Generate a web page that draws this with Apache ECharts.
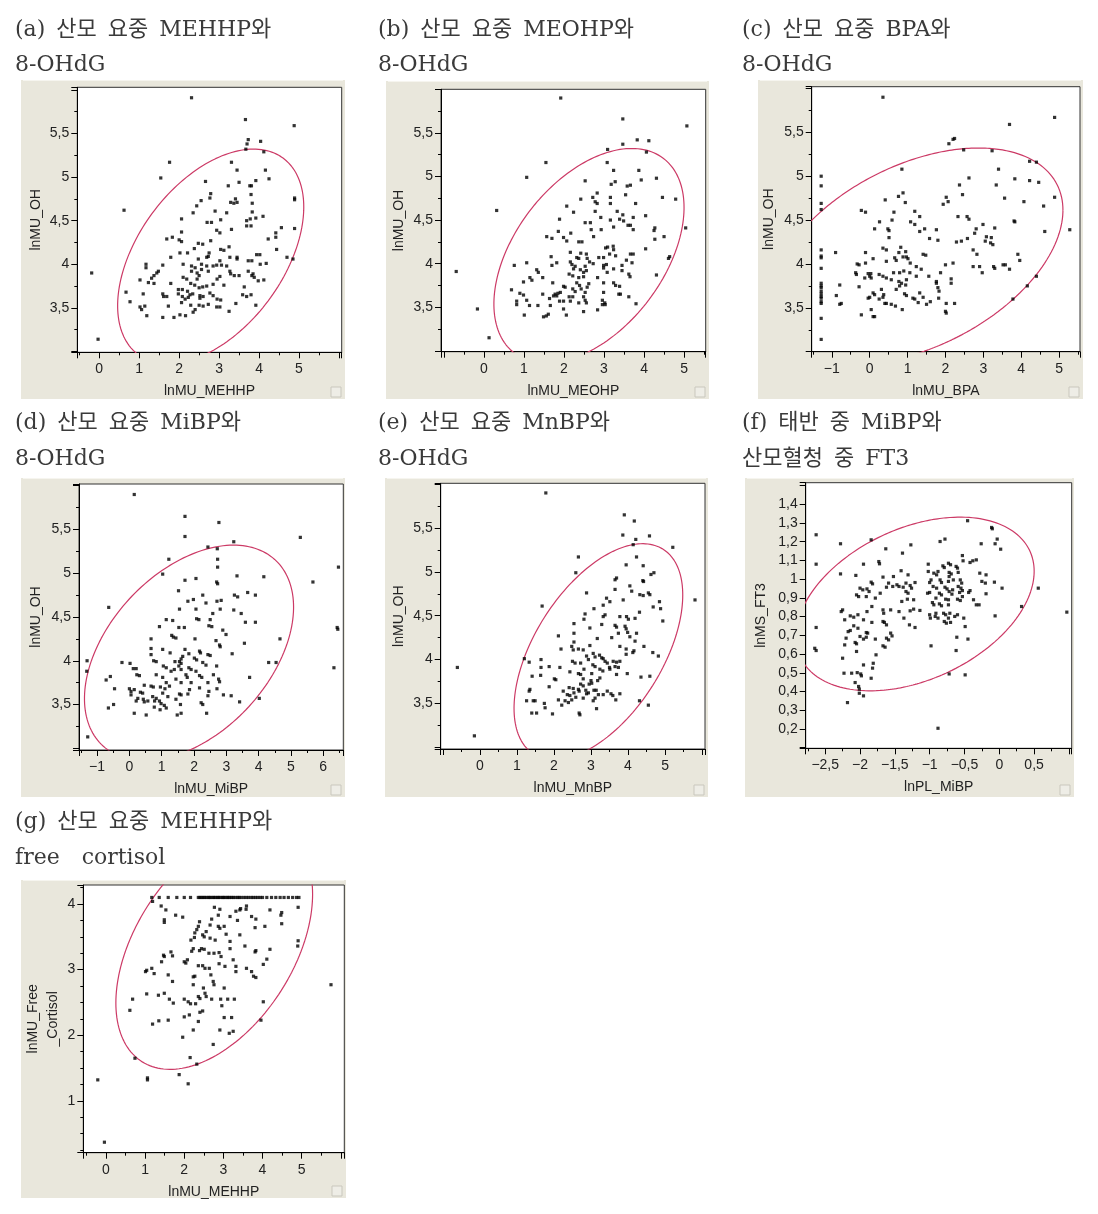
<!DOCTYPE html>
<html><head><meta charset="utf-8">
<script src="https://cdn.jsdelivr.net/npm/echarts@6/dist/echarts.min.js"></script>
<style>html,body{margin:0;padding:0;background:#fff}#c{width:1098px;height:1214px}</style>
</head><body><div id="c"></div>
<script>
// ---------- DATA ----------
const ptsA = [[2.31,5.91],[3.66,5.66],[4.88,5.59],[3.73,5.43],[3.70,5.38],[4.04,5.41],[3.67,5.32],[4.12,5.29],[1.76,5.17],[3.31,5.17],[1.54,4.99],[0.62,4.62],[-0.19,3.90],[-0.03,3.14],[3.45,5.08],[4.16,5.08],[4.25,4.98],[3.50,4.94],[2.66,4.95],[3.92,4.96],[3.77,4.90],[3.81,4.90],[3.23,4.90],[2.79,4.81],[2.77,4.76],[3.80,4.80],[3.41,4.75],[3.45,4.71],[3.37,4.70],[4.89,4.76],[4.89,4.74],[2.55,4.73],[2.44,4.67],[3.29,4.71],[3.83,4.70],[2.90,4.61],[3.19,4.59],[3.83,4.60],[2.35,4.59],[2.06,4.52],[3.04,4.51],[2.70,4.48],[2.81,4.48],[4.10,4.55],[3.92,4.53],[3.69,4.50],[3.78,4.52],[3.69,4.44],[3.80,4.44],[4.89,4.41],[4.56,4.42],[4.42,4.36],[4.42,4.31],[2.94,4.39],[3.02,4.36],[2.06,4.37],[3.31,4.40],[4.23,4.29],[1.69,4.29],[1.83,4.31],[2.00,4.28],[2.06,4.26],[2.48,4.24],[2.59,4.23],[2.79,4.27],[2.38,4.18],[3.04,4.17],[3.12,4.16],[3.25,4.20],[4.44,4.17],[2.02,4.13],[2.21,4.13],[2.75,4.13],[1.79,4.08],[2.48,4.06],[2.69,4.08],[2.73,4.09],[3.02,4.04],[3.27,4.08],[3.45,4.08],[3.73,4.04],[3.82,4.04],[3.94,4.11],[4.02,4.11],[4.70,4.08],[4.85,4.06],[4.03,4.00],[4.18,4.01],[1.17,4.00],[1.17,3.96],[1.59,3.99],[2.10,4.00],[2.31,3.98],[2.40,3.96],[2.56,4.00],[2.69,3.98],[2.85,3.98],[2.94,3.99],[3.06,3.99],[3.19,3.98],[2.56,3.94],[2.73,3.92],[2.31,3.92],[2.45,3.90],[3.27,3.92],[3.29,3.89],[3.50,3.87],[3.73,3.92],[3.85,3.89],[1.48,3.92],[1.44,3.90],[1.37,3.87],[1.31,3.84],[1.02,3.82],[1.23,3.79],[1.37,3.78],[1.79,3.78],[2.10,3.85],[2.19,3.83],[2.45,3.83],[2.50,3.87],[2.95,3.83],[3.02,3.86],[3.82,3.87],[3.88,3.85],[4.12,3.82],[2.29,3.78],[2.39,3.76],[2.59,3.74],[2.69,3.75],[2.85,3.77],[3.12,3.76],[3.63,3.74],[1.98,3.71],[2.08,3.71],[2.21,3.69],[2.50,3.73],[2.77,3.67],[0.67,3.68],[1.10,3.66],[1.59,3.66],[1.61,3.63],[1.98,3.66],[2.08,3.63],[2.27,3.65],[2.34,3.66],[2.52,3.64],[2.60,3.63],[2.85,3.64],[2.15,3.60],[2.23,3.62],[2.52,3.61],[2.95,3.60],[3.04,3.59],[3.59,3.65],[3.69,3.63],[3.80,3.65],[0.77,3.57],[1.69,3.63],[2.06,3.56],[2.29,3.53],[2.50,3.53],[2.60,3.52],[2.73,3.54],[2.94,3.51],[3.02,3.51],[3.42,3.55],[3.92,3.53],[1.02,3.51],[1.06,3.48],[1.14,3.52],[1.73,3.52],[1.19,3.41],[1.59,3.39],[1.87,3.39],[2.02,3.42],[2.16,3.41],[2.35,3.45],[2.40,3.48],[3.25,3.46],[3.98,3.81],[3.38,3.87],[3.45,4.06]];

const ptsB = [[1.92,5.90],[3.47,5.66],[5.07,5.58],[3.83,5.42],[4.12,5.41],[3.47,5.37],[3.09,5.31],[4.06,5.28],[1.55,5.16],[3.08,5.16],[1.07,4.99],[3.24,5.07],[3.87,5.07],[4.31,4.98],[2.53,4.95],[3.28,4.94],[3.93,4.96],[3.58,4.89],[3.66,4.90],[3.18,4.91],[2.83,4.81],[3.54,4.79],[4.46,4.76],[4.79,4.74],[2.42,4.74],[2.72,4.76],[3.16,4.76],[2.07,4.66],[2.78,4.71],[2.83,4.69],[3.16,4.69],[3.79,4.69],[0.32,4.61],[2.24,4.59],[2.78,4.60],[3.33,4.60],[3.47,4.56],[4.04,4.55],[1.89,4.51],[2.92,4.53],[3.39,4.51],[3.49,4.49],[3.73,4.53],[2.53,4.47],[2.66,4.47],[3.16,4.50],[3.60,4.44],[3.66,4.44],[5.04,4.41],[4.27,4.41],[2.68,4.39],[2.93,4.39],[3.24,4.42],[3.73,4.39],[1.86,4.37],[2.17,4.35],[4.25,4.38],[1.57,4.31],[1.70,4.29],[4.50,4.31],[2.74,4.31],[1.99,4.30],[2.07,4.26],[2.37,4.25],[2.45,4.25],[4.27,4.28],[3.04,4.18],[3.09,4.19],[3.23,4.20],[3.24,4.16],[4.04,4.17],[2.16,4.13],[2.42,4.12],[2.56,4.11],[2.58,4.06],[3.14,4.11],[3.66,4.11],[3.73,4.11],[1.68,4.08],[2.32,4.07],[2.37,4.06],[2.87,4.07],[2.99,4.07],[3.29,4.09],[4.61,4.06],[4.64,4.08],[3.56,4.04],[3.70,4.01],[1.82,4.01],[1.70,3.98],[2.16,4.02],[2.64,4.02],[2.73,4.00],[2.20,3.99],[2.28,3.97],[2.53,3.97],[2.99,3.98],[3.06,3.99],[3.45,3.98],[1.07,4.01],[0.76,3.98],[1.32,3.93],[1.36,3.90],[2.24,3.94],[2.41,3.93],[2.49,3.90],[2.56,3.92],[2.99,3.95],[3.08,3.90],[3.24,3.94],[3.45,3.92],[-0.69,3.91],[2.13,3.88],[2.22,3.86],[2.37,3.84],[2.49,3.85],[2.84,3.84],[3.62,3.88],[3.65,3.85],[4.31,3.87],[1.15,3.84],[1.20,3.81],[1.47,3.84],[1.72,3.78],[0.99,3.79],[2.32,3.78],[2.39,3.75],[2.62,3.77],[2.58,3.73],[2.99,3.78],[3.24,3.78],[3.29,3.75],[1.99,3.74],[2.03,3.73],[2.22,3.71],[2.43,3.71],[3.39,3.74],[0.69,3.70],[0.90,3.66],[0.99,3.64],[1.78,3.65],[1.85,3.66],[1.91,3.67],[2.28,3.68],[2.53,3.67],[2.99,3.67],[3.37,3.65],[3.41,3.65],[1.47,3.65],[1.74,3.63],[1.82,3.63],[2.13,3.62],[2.22,3.62],[2.49,3.62],[3.62,3.62],[0.82,3.57],[0.82,3.53],[1.07,3.58],[1.64,3.60],[1.89,3.57],[1.99,3.57],[2.16,3.57],[2.37,3.55],[2.53,3.58],[2.56,3.55],[2.96,3.58],[3.02,3.55],[2.96,3.53],[3.03,3.53],[3.80,3.54],[1.14,3.52],[1.35,3.52],[1.66,3.52],[1.99,3.48],[2.84,3.47],[2.49,3.45],[1.01,3.41],[1.49,3.39],[1.56,3.40],[1.61,3.42],[2.06,3.41],[-0.16,3.48],[0.13,3.15]];

const ptsC = [[-1.28,5.00],[-1.28,4.89],[-1.28,4.69],[-1.28,4.62],[-1.28,4.16],[-1.28,4.09],[-1.28,4.07],[-1.28,3.95],[-1.28,3.78],[-1.28,3.75],[-1.28,3.73],[-1.28,3.69],[-1.28,3.66],[-1.28,3.63],[-1.28,3.61],[-1.28,3.57],[-1.28,3.55],[-1.28,3.38],[-1.28,3.14],[0.35,5.90],[3.69,5.59],[4.88,5.67],[2.20,5.42],[2.24,5.43],[2.09,5.37],[2.48,5.30],[3.23,5.29],[0.85,5.08],[3.40,5.08],[4.22,5.17],[4.40,5.16],[2.62,4.98],[3.83,4.97],[4.22,4.95],[4.46,4.93],[2.37,4.90],[3.34,4.90],[2.45,4.79],[0.88,4.81],[0.76,4.77],[2.02,4.76],[2.07,4.71],[1.94,4.68],[3.56,4.75],[4.88,4.76],[0.41,4.73],[0.94,4.70],[4.07,4.71],[4.59,4.66],[1.19,4.60],[-0.22,4.61],[-0.11,4.59],[0.64,4.59],[1.32,4.54],[2.33,4.54],[2.57,4.54],[2.62,4.51],[3.81,4.49],[3.83,4.48],[0.59,4.50],[1.08,4.48],[1.19,4.45],[0.26,4.48],[0.48,4.40],[0.51,4.38],[0.13,4.40],[1.45,4.40],[1.76,4.39],[2.81,4.40],[3.30,4.41],[4.62,4.37],[5.28,4.39],[2.99,4.45],[1.32,4.37],[2.77,4.35],[0.51,4.30],[1.58,4.29],[1.80,4.27],[2.29,4.25],[2.42,4.26],[3.08,4.31],[3.21,4.30],[3.19,4.24],[3.25,4.22],[2.58,4.29],[3.05,4.26],[2.73,4.16],[0.35,4.18],[0.44,4.16],[0.82,4.19],[0.77,4.13],[0.95,4.14],[-0.90,4.13],[1.41,4.11],[1.48,4.10],[-0.11,4.13],[0.66,4.07],[0.70,4.04],[0.88,4.08],[0.97,4.08],[1.01,4.06],[0.09,4.06],[2.83,4.11],[3.91,4.11],[3.96,4.04],[-0.33,4.00],[-0.28,3.99],[-0.11,4.01],[0.44,4.03],[1.07,4.01],[1.23,3.97],[2.00,3.99],[2.20,4.01],[2.73,3.97],[2.90,3.97],[3.27,3.97],[3.30,3.95],[3.52,3.99],[3.58,3.99],[3.69,3.94],[4.40,3.86],[-0.37,3.90],[-0.35,3.88],[-0.04,3.89],[0.03,3.89],[0.25,3.88],[0.63,3.90],[0.79,3.90],[0.90,3.92],[1.06,3.90],[1.36,3.94],[1.87,3.90],[2.97,3.90],[-0.13,3.84],[0.04,3.84],[0.00,3.86],[0.35,3.86],[0.44,3.84],[0.57,3.82],[0.77,3.80],[0.84,3.78],[0.97,3.82],[0.95,3.76],[1.23,3.86],[1.56,3.86],[1.76,3.80],[1.76,3.78],[2.15,3.83],[2.15,3.78],[-0.79,3.76],[-0.28,3.74],[0.79,3.75],[1.80,3.73],[1.83,3.69],[0.70,3.71],[0.31,3.71],[0.09,3.67],[0.13,3.65],[0.37,3.65],[0.92,3.66],[0.97,3.64],[1.32,3.67],[-0.88,3.64],[0.35,3.62],[-0.04,3.61],[0.00,3.62],[1.14,3.61],[1.19,3.60],[1.41,3.62],[1.82,3.61],[-0.79,3.54],[-0.75,3.55],[0.25,3.60],[0.40,3.55],[0.44,3.55],[0.57,3.54],[0.68,3.52],[1.28,3.56],[1.50,3.54],[1.60,3.57],[2.02,3.55],[2.24,3.55],[0.86,3.48],[0.04,3.48],[-0.22,3.42],[0.09,3.40],[0.13,3.40],[2.00,3.46],[2.02,3.44],[3.78,3.60],[4.16,3.75]];

const ptsD = [[0.15,5.90],[1.72,5.65],[2.77,5.58],[1.72,5.42],[5.29,5.41],[3.23,5.36],[2.43,5.30],[2.72,5.28],[1.22,5.16],[2.73,5.16],[2.73,5.07],[6.47,5.07],[1.03,4.99],[3.33,4.97],[2.70,4.90],[2.73,4.88],[1.72,4.92],[2.06,4.94],[5.68,4.90],[4.16,4.96],[1.52,4.80],[2.27,4.75],[3.25,4.75],[3.35,4.73],[3.66,4.78],[3.90,4.75],[-0.64,4.61],[1.81,4.68],[1.98,4.70],[2.71,4.68],[2.84,4.69],[2.37,4.66],[1.55,4.59],[2.06,4.59],[2.81,4.59],[3.23,4.58],[3.46,4.54],[1.34,4.46],[1.14,4.47],[0.93,4.39],[2.08,4.48],[2.15,4.47],[2.50,4.47],[2.58,4.54],[3.59,4.44],[3.90,4.44],[1.53,4.38],[1.70,4.38],[2.46,4.40],[2.55,4.39],[2.89,4.35],[2.99,4.30],[6.45,4.36],[6.43,4.38],[1.31,4.29],[1.36,4.27],[0.67,4.25],[2.03,4.25],[2.68,4.23],[1.44,4.26],[4.66,4.25],[3.56,4.20],[0.67,4.14],[1.03,4.13],[1.72,4.13],[2.79,4.18],[2.81,4.16],[1.26,4.09],[1.84,4.08],[2.17,4.11],[2.20,4.09],[2.43,4.07],[2.50,4.06],[3.18,4.08],[1.65,4.05],[1.60,4.02],[2.01,4.03],[2.08,4.01],[0.67,4.07],[-1.31,4.00],[-0.23,3.98],[0.02,3.97],[0.75,4.00],[0.83,3.99],[1.41,3.99],[1.55,3.99],[1.60,3.97],[2.27,3.98],[2.37,3.95],[4.31,3.98],[4.54,3.98],[2.70,3.94],[0.12,3.91],[0.21,3.91],[1.05,3.94],[1.14,3.92],[1.29,3.88],[1.39,3.90],[1.53,3.94],[1.60,3.90],[1.84,3.92],[1.91,3.90],[6.33,3.92],[2.06,3.88],[-1.32,3.88],[0.23,3.84],[0.31,3.83],[0.83,3.84],[1.03,3.81],[1.44,3.79],[1.75,3.84],[1.79,3.81],[2.17,3.83],[2.24,3.81],[2.60,3.84],[2.76,3.79],[2.79,3.76],[3.72,3.81],[-0.72,3.78],[-0.59,3.82],[1.14,3.75],[1.60,3.75],[1.91,3.75],[2.43,3.75],[0.46,3.72],[0.67,3.71],[0.74,3.70],[0.96,3.70],[1.10,3.68],[1.24,3.71],[-0.46,3.68],[0.00,3.68],[0.05,3.65],[0.15,3.67],[0.34,3.64],[0.41,3.63],[1.86,3.67],[2.17,3.69],[2.46,3.65],[2.71,3.68],[1.03,3.63],[0.05,3.61],[1.55,3.62],[1.60,3.61],[2.43,3.60],[2.91,3.61],[3.15,3.60],[0.72,3.59],[0.83,3.57],[1.19,3.59],[1.81,3.62],[1.44,3.56],[0.26,3.57],[0.21,3.54],[0.43,3.56],[0.46,3.53],[0.57,3.54],[0.78,3.54],[0.93,3.54],[0.98,3.51],[1.08,3.49],[2.22,3.52],[2.27,3.50],[3.41,3.53],[4.02,3.57],[-0.49,3.50],[-0.65,3.46],[0.77,3.47],[0.95,3.44],[1.14,3.46],[1.58,3.50],[0.15,3.40],[0.52,3.38],[1.48,3.38],[1.60,3.40],[2.39,3.40],[-1.29,3.13]];

const ptsE = [[1.78,5.90],[3.90,5.65],[4.17,5.58],[3.86,5.42],[4.58,5.41],[4.21,5.37],[4.14,5.31],[5.21,5.28],[2.66,5.17],[4.23,5.17],[3.95,5.08],[4.41,5.07],[2.59,4.99],[4.62,4.97],[4.70,4.99],[3.65,4.91],[3.69,4.93],[4.40,4.90],[4.42,4.89],[4.05,4.84],[2.88,4.76],[3.65,4.80],[3.87,4.68],[4.10,4.78],[4.32,4.74],[4.41,4.73],[4.55,4.76],[4.59,4.74],[3.42,4.70],[3.51,4.66],[5.81,4.68],[4.85,4.66],[1.68,4.61],[4.68,4.60],[4.88,4.58],[3.08,4.58],[3.33,4.62],[2.84,4.52],[2.81,4.46],[3.38,4.51],[3.33,4.49],[3.78,4.49],[3.96,4.49],[4.01,4.46],[4.19,4.47],[4.31,4.54],[4.94,4.44],[2.97,4.36],[3.29,4.40],[3.65,4.39],[3.69,4.37],[3.92,4.38],[3.95,4.35],[2.54,4.41],[2.12,4.27],[2.54,4.30],[3.17,4.24],[3.74,4.30],[3.99,4.31],[4.05,4.26],[4.23,4.30],[4.19,4.21],[2.54,4.20],[3.56,4.25],[2.97,4.16],[2.19,4.12],[2.48,4.15],[2.52,4.11],[2.66,4.12],[2.79,4.11],[3.78,4.15],[4.43,4.15],[3.95,4.12],[4.13,4.08],[4.16,4.10],[3.95,4.06],[4.67,4.08],[4.82,4.04],[3.06,4.07],[3.11,4.03],[3.23,4.05],[3.29,4.02],[3.33,4.01],[2.88,4.04],[2.93,4.00],[1.20,4.01],[1.33,3.97],[1.65,4.00],[3.38,3.98],[3.44,3.96],[3.60,3.98],[3.69,3.97],[3.78,3.98],[2.50,3.98],[2.57,3.96],[2.72,3.96],[3.05,3.94],[3.11,3.92],[1.87,3.92],[2.16,3.91],[2.81,3.89],[3.24,3.89],[3.32,3.87],[3.50,3.91],[3.51,3.89],[3.65,3.92],[3.74,3.91],[1.65,3.91],[2.43,3.86],[2.66,3.84],[2.72,3.83],[3.02,3.84],[3.69,3.83],[3.98,3.84],[4.35,3.80],[4.59,3.81],[1.41,3.81],[1.64,3.82],[2.01,3.78],[2.05,3.77],[2.79,3.78],[3.00,3.76],[3.02,3.73],[3.24,3.79],[3.18,3.76],[2.72,3.72],[2.79,3.70],[2.95,3.72],[1.87,3.69],[2.41,3.68],[2.52,3.67],[2.66,3.66],[2.68,3.64],[2.86,3.65],[3.08,3.65],[3.14,3.65],[1.35,3.66],[1.33,3.64],[2.25,3.64],[2.54,3.62],[2.36,3.60],[2.43,3.59],[2.88,3.61],[2.93,3.62],[3.20,3.60],[3.33,3.60],[3.44,3.64],[3.54,3.61],[3.59,3.59],[3.78,3.61],[2.59,3.57],[2.79,3.56],[3.11,3.56],[2.12,3.54],[2.30,3.53],[2.39,3.51],[2.48,3.54],[3.67,3.54],[3.06,3.53],[1.26,3.53],[1.44,3.53],[1.49,3.53],[1.74,3.50],[2.21,3.48],[4.31,3.53],[4.55,3.48],[1.76,3.45],[3.15,3.44],[1.40,3.39],[1.53,3.39],[1.96,3.38],[2.68,3.39],[2.70,3.37],[-0.61,3.91],[-0.15,3.13]];

const ptsF = [[-0.455,1.312],[-0.11,1.276],[-0.10,1.269],[-2.63,1.237],[-0.78,1.214],[-1.84,1.210],[-0.85,1.201],[-0.03,1.214],[-2.28,1.189],[-0.26,1.189],[-0.06,1.189],[-1.27,1.183],[0.02,1.160],[-1.63,1.162],[-1.39,1.139],[-0.53,1.126],[-1.73,1.094],[-1.72,1.082],[-0.33,1.103],[-0.42,1.089],[-2.63,1.080],[-1.95,1.080],[-1.02,1.080],[-0.81,1.071],[-0.79,1.062],[-0.73,1.085],[-0.70,1.077],[-0.62,1.068],[-0.60,1.059],[-0.52,1.098],[-0.38,1.098],[-0.88,1.041],[-1.41,1.045],[-1.02,1.041],[-0.94,1.032],[-0.90,1.023],[-0.72,1.036],[-0.69,1.028],[-0.59,1.036],[-0.28,1.032],[-0.19,1.023],[-2.28,1.028],[-2.06,1.020],[-1.67,1.011],[-1.52,1.014],[-1.31,1.023],[-0.98,0.996],[-1.00,0.982],[-0.85,0.996],[-0.83,0.982],[-0.72,1.014],[-0.73,0.988],[-0.66,0.996],[-0.56,0.996],[-0.54,0.979],[-0.25,0.988],[-0.20,0.979],[-0.07,0.984],[-1.84,0.984],[-1.82,0.975],[-1.59,0.979],[-1.47,0.970],[-1.44,0.961],[-1.34,0.979],[-1.28,0.966],[-1.26,0.952],[-1.21,0.982],[-2.00,0.952],[-1.96,0.943],[-1.90,0.948],[-1.87,0.934],[-1.62,0.957],[-1.53,0.961],[-1.38,0.957],[-0.95,0.961],[-0.90,0.952],[-0.78,0.957],[-0.75,0.948],[-0.67,0.943],[-0.59,0.961],[-0.55,0.952],[0.04,0.952],[0.56,0.952],[-1.34,0.934],[-1.31,0.925],[-1.03,0.925],[-1.00,0.929],[-0.86,0.925],[-0.83,0.916],[-0.72,0.934],[-0.68,0.920],[-0.57,0.929],[-0.53,0.939],[-0.44,0.929],[-0.42,0.939],[-0.19,0.922],[-2.05,0.916],[-2.02,0.907],[-1.91,0.907],[-1.78,0.899],[-1.71,0.925],[-1.32,0.893],[-1.23,0.890],[-0.91,0.899],[-0.77,0.893],[-0.73,0.890],[-0.60,0.893],[-0.56,0.886],[-0.53,0.907],[-0.37,0.890],[-1.40,0.881],[-0.96,0.875],[-0.94,0.863],[-0.86,0.868],[-0.83,0.858],[-0.73,0.863],[-0.33,0.863],[-0.29,0.863],[0.32,0.854],[0.97,0.824],[-2.25,0.836],[-2.27,0.827],[-2.14,0.804],[-2.03,0.810],[-1.90,0.827],[-1.83,0.854],[-1.67,0.836],[-1.66,0.818],[-1.56,0.836],[-1.44,0.827],[-1.28,0.831],[-1.23,0.840],[-1.14,0.833],[-1.00,0.810],[-0.99,0.792],[-0.91,0.818],[-0.88,0.792],[-0.80,0.818],[-0.77,0.810],[-0.71,0.818],[-0.73,0.792],[-0.64,0.801],[-0.60,0.810],[-0.06,0.804],[-2.22,0.783],[-2.09,0.797],[-1.95,0.783],[-1.83,0.769],[-1.67,0.774],[-1.65,0.769],[-1.37,0.792],[-0.92,0.801],[-0.79,0.774],[-0.76,0.765],[-0.70,0.769],[-0.51,0.792],[-2.09,0.751],[-2.03,0.738],[-2.63,0.742],[-1.62,0.756],[-1.29,0.756],[-1.21,0.742],[-0.49,0.747],[-2.17,0.720],[-2.14,0.726],[-1.91,0.715],[-1.89,0.712],[-1.56,0.712],[-1.54,0.697],[-2.20,0.685],[-2.00,0.694],[-1.95,0.680],[-1.91,0.690],[-1.78,0.680],[-1.62,0.685],[-1.59,0.676],[-0.61,0.690],[-0.45,0.680],[-2.22,0.649],[-2.07,0.662],[-2.05,0.655],[-1.67,0.644],[-1.64,0.637],[-0.98,0.644],[-2.65,0.631],[-2.63,0.619],[-2.05,0.614],[-0.62,0.619],[-2.25,0.578],[-1.77,0.596],[-2.23,0.498],[-2.12,0.498],[-2.04,0.501],[-1.99,0.494],[-1.98,0.484],[-1.95,0.542],[-1.81,0.551],[-1.82,0.525],[-1.84,0.471],[-0.72,0.494],[-0.49,0.489],[-2.07,0.448],[-2.02,0.427],[-2.01,0.413],[-2.01,0.391],[-1.95,0.377],[-2.18,0.341],[-0.88,0.204]];

const ptsG = [[1.17,4.10],[1.36,4.10],[1.59,4.10],[1.81,4.10],[2.00,4.10],[2.16,4.10],[2.36,4.10],[2.40,4.10],[2.44,4.10],[2.48,4.10],[2.52,4.10],[2.56,4.10],[2.61,4.10],[2.64,4.10],[2.68,4.10],[2.73,4.10],[2.76,4.10],[2.80,4.10],[2.85,4.10],[2.88,4.10],[2.92,4.10],[2.97,4.10],[3.00,4.10],[3.04,4.10],[3.09,4.10],[3.12,4.10],[3.16,4.10],[3.21,4.10],[3.25,4.10],[3.30,4.10],[3.36,4.10],[3.40,4.10],[3.45,4.10],[3.52,4.10],[3.58,4.10],[3.64,4.10],[3.71,4.10],[3.76,4.10],[3.82,4.10],[3.88,4.10],[3.94,4.10],[4.00,4.10],[4.11,4.10],[4.23,4.10],[4.34,4.10],[4.45,4.10],[4.55,4.10],[4.66,4.10],[4.77,4.10],[4.87,4.10],[4.93,4.10],[1.17,3.02],[1.04,2.99],[1.01,2.97],[1.23,2.94],[1.04,2.63],[0.68,2.55],[0.61,2.38],[0.74,1.65],[1.06,1.35],[1.06,1.32],[-0.21,1.32],[-0.04,0.37],[5.75,2.77],[1.87,1.40],[2.10,1.26],[2.15,1.66],[2.32,1.56],[1.19,2.17],[1.35,2.22],[1.59,2.23],[1.96,1.97],[2.00,2.28],[2.13,2.31],[2.23,2.08],[2.36,2.21],[2.40,2.35],[2.47,2.37],[2.74,1.86],[2.91,2.08],[3.15,2.03],[3.25,2.06],[3.02,2.27],[3.21,2.27],[3.96,2.23],[1.34,2.61],[1.49,2.64],[1.62,2.55],[1.72,2.49],[2.00,2.55],[2.10,2.51],[2.16,2.48],[2.29,2.48],[1.59,2.92],[1.70,2.82],[1.47,3.22],[1.49,3.20],[1.66,3.27],[1.70,3.21],[1.42,3.12],[2.00,3.12],[2.04,3.10],[2.08,3.15],[2.19,3.28],[2.39,3.29],[2.44,3.32],[2.51,3.31],[2.63,3.25],[2.76,3.25],[2.89,3.26],[2.94,3.20],[3.17,3.32],[3.55,3.36],[3.81,3.27],[3.83,3.29],[4.19,3.31],[4.11,3.16],[4.02,3.08],[2.23,2.89],[2.27,2.90],[2.36,3.06],[2.47,3.06],[2.53,3.02],[2.64,3.02],[2.68,2.92],[2.89,3.09],[3.04,3.05],[3.32,3.05],[3.32,2.97],[3.59,3.02],[3.72,2.97],[3.77,2.90],[3.83,2.88],[2.74,2.82],[2.76,2.77],[2.49,2.72],[2.53,2.64],[2.56,2.59],[2.70,2.55],[3.02,2.72],[2.93,2.55],[2.96,2.45],[3.11,2.55],[3.28,2.55],[4.02,2.51],[4.90,3.36],[4.91,3.44],[4.91,3.95],[4.47,3.83],[4.49,3.87],[4.49,3.70],[4.19,3.91],[4.06,3.66],[3.83,3.77],[3.81,3.64],[3.72,3.81],[3.42,3.91],[3.44,3.93],[3.36,3.75],[3.42,3.53],[3.32,3.89],[3.17,3.81],[3.02,3.66],[3.07,3.54],[2.91,3.63],[2.87,3.66],[2.77,3.95],[2.91,3.92],[2.70,3.77],[2.66,3.68],[2.56,3.58],[2.47,3.53],[2.51,3.50],[2.39,3.73],[2.36,3.66],[2.32,3.61],[2.27,3.56],[2.26,3.49],[2.17,3.45],[2.23,3.32],[1.78,3.83],[1.96,3.80],[1.53,3.91],[1.49,3.76],[1.49,3.72],[1.41,3.97],[1.19,4.04],[3.58,3.92],[3.59,3.97],[2.66,3.48],[2.79,3.45],[3.17,3.43],[2.87,3.83],[3.25,3.15],[2.36,2.59],[2.40,2.56],[2.23,2.77]];

// density-ellipse summary per panel: [meanX, meanY, sdX, sdY, corr]
const ellA = [2.79, 4.09, 0.952, 0.503, 0.46];
const ellB = [2.625, 4.09, 0.970, 0.503, 0.45];
const ellC = [1.23, 4.09, 1.581, 0.503, 0.425];
const ellD = [1.845, 4.09, 1.322, 0.503, 0.425];
const ellE = [3.20, 4.09, 0.931, 0.503, 0.525];
const ellF = [-1.21, 0.8675, 0.699, 0.1894, 0.377];
const ellG = [2.766, 3.321, 1.027, 0.752, 0.45];

// tick labels
const xLabelsInt05 = [0,1,2,3,4,5];
const xLabelsC = [-1,0,1,2,3,4,5];
const xLabelsD = [-1,0,1,2,3,4,5,6];
const xLabelsF = [-2.5,-2,-1.5,-1,-0.5,0,0.5];
const yLabelsOH = [3.5,4,4.5,5,5.5];
const yLabelsF = [0.2,0.3,0.4,0.5,0.6,0.7,0.8,0.9,1,1.1,1.2,1.3,1.4];
const yLabelsG = [1,2,3,4];

const titles1 = ['(a)\u2002산모\u2002요중\u2002MEHHP와','(b)\u2002산모\u2002요중\u2002MEOHP와','(c)\u2002산모\u2002요중\u2002BPA와','(d)\u2002산모\u2002요중\u2002MiBP와','(e)\u2002산모\u2002요중\u2002MnBP와','(f)\u2002태반\u2002중\u2002MiBP와','(g)\u2002산모\u2002요중\u2002MEHHP와'];
const titles2 = ['8-OHdG','8-OHdG','8-OHdG','8-OHdG','8-OHdG','산모혈청\u2002중\u2002FT3','free\u2002\u2002cortisol'];
const xNames = ['lnMU_MEHHP','lnMU_MEOHP','lnMU_BPA','lnMU_MiBP','lnMU_MnBP','lnPL_MiBP','lnMU_MEHHP'];
const yNames = ['lnMU_OH','lnMU_OH','lnMU_OH','lnMU_OH','lnMU_OH','lnMS_FT3','lnMU_Free\n_Cortisol'];

// ---------- LAYOUT ----------
const panels = [
 {pts:ptsA, ell:ellA, plot:[77.3,87.3,341.7,352.3], bg:[21,80,345,399], xr:[-0.55,6.07], yr:[2.99,6.03], xm:1, xs:2, ym:0.5, ys:2, xl:xLabelsInt05, yl:yLabelsOH, tx:15, ty:30, yGap:31},
 {pts:ptsB, ell:ellB, plot:[441,89.3,705.7,351.7], bg:[386,81,709,399], xr:[-1.07,5.54], yr:[2.99,6.0], xm:1, xs:2, ym:0.5, ys:2, xl:xLabelsInt05, yl:yLabelsOH, tx:378, ty:30, yGap:32},
 {pts:ptsC, ell:ellC, plot:[811.7,86.7,1080,351.7], bg:[758,80,1083,399], xr:[-1.53,5.55], yr:[3.0,6.02], xm:1, xs:2, ym:0.5, ys:2, xl:xLabelsC, yl:yLabelsOH, tx:742, ty:30, yGap:33},
 {pts:ptsD, ell:ellD, plot:[79,484,343.3,750], bg:[21,478,345,797], xr:[-1.56,6.62], yr:[2.98,6.02], xm:1, xs:2, ym:0.5, ys:2, xl:xLabelsD, yl:yLabelsOH, tx:15, ty:423.5, yGap:33},
 {pts:ptsE, ell:ellE, plot:[440.7,483.3,705,749], bg:[385,478,708,797], xr:[-1.06,6.08], yr:[2.98,6.01], xm:1, xs:2, ym:0.5, ys:2, xl:xLabelsInt05, yl:yLabelsOH, tx:378, ty:423.5, yGap:32},
 {pts:ptsF, ell:ellF, plot:[805.7,482.7,1071.7,748.3], bg:[745,478,1074,797], xr:[-2.78,1.04], yr:[0.097,1.515], xm:0.5, xs:2, ym:0.1, ys:0, xl:xLabelsF, yl:yLabelsF, tx:742, ty:423.5, yGap:35},
 {pts:ptsG, ell:ellG, plot:[83.3,885,344.3,1152.7], bg:[21,880,346,1198], xr:[-0.58,6.09], yr:[0.21,4.29], xm:1, xs:2, ym:1, ys:4, xl:xLabelsInt05, yl:yLabelsG, tx:15, ty:822.5, yGap:20}
];

const C95 = Math.sqrt(5.991);
function ellipsePts(e){
  const [mx,my,sx,sy,r]=e, s=Math.sqrt(1-r*r), out=[];
  for(let i=0;i<=360;i++){const t=i*Math.PI/180;
    out.push([mx+C95*sx*Math.cos(t), my+C95*sy*(r*Math.cos(t)+s*Math.sin(t))]);}
  return out;
}
function fmt(v){ return String(+v.toFixed(2)).replace('.',',').replace('-','\u2212'); }
function labelFn(list){ return v => list.some(l=>Math.abs(l-v)<1e-6) ? fmt(v) : ''; }

const axisFont = {fontFamily:'"Liberation Sans", Arial, sans-serif', fontSize:14, color:'#222'};
const grids=[], xAxes=[], yAxes=[], series=[], graphics=[];
panels.forEach((p,i)=>{
  const [l,t,r,b]=p.plot;
  grids.push({left:l, top:t, width:r-l, height:b-t, show:true, backgroundColor:'#fff', borderColor:'#333', borderWidth:1, containLabel:false});
  const common = (major, minor) => ({
    type:'value', gridIndex:i, minInterval:major, maxInterval:major, splitNumber:20,
    axisLine:{show:true, onZero:false, lineStyle:{color:'#000', width:1}},
    axisTick:{show:true, length:6, lineStyle:{color:'#000'}},
    minorTick:{show:minor>1, splitNumber:minor||2, length:3, lineStyle:{color:'#000'}},
    splitLine:{show:false}, minorSplitLine:{show:false},
    nameLocation:'middle', nameTextStyle:Object.assign({}, axisFont, {color:'#222', lineHeight:20})
  });
  xAxes.push(Object.assign(common(p.xm,p.xs), {min:p.xr[0], max:p.xr[1], name:xNames[i], nameGap:29,
     axisLabel:Object.assign({}, axisFont, {margin:10, formatter:labelFn(p.xl), showMinLabel:true, showMaxLabel:true})}));
  yAxes.push(Object.assign(common(p.ym,p.ys), {min:p.yr[0], max:p.yr[1], name:yNames[i], nameGap:p.yGap,
     axisLabel:Object.assign({}, axisFont, {margin:8, formatter:labelFn(p.yl), showMinLabel:true, showMaxLabel:true})}));
  series.push({type:'line', xAxisIndex:i, yAxisIndex:i, data:ellipsePts(p.ell), showSymbol:false, symbol:'none', clip:true,
     lineStyle:{color:'#cc3a66', width:1.2}, silent:true, z:2});
  series.push({type:'scatter', xAxisIndex:i, yAxisIndex:i, data:p.pts, symbol:'rect', symbolSize:3.2,
     itemStyle:{color:'#000'}, silent:true, z:3});
  const [bx0,by0,bx1,by1]=p.bg;
  graphics.push({type:'rect', shape:{x:bx0,y:by0,width:bx1-bx0,height:by1-by0}, style:{fill:'#e9e7dc'}, z:-100, silent:true});
  graphics.push({type:'rect', shape:{x:bx0+2,y:by0,width:bx1-bx0-4,height:1}, style:{fill:'#f6f5ef'}, z:-99, silent:true});
  graphics.push({type:'rect', shape:{x:bx1-14,y:by1-12,width:10,height:10}, style:{fill:'#eeede6', stroke:'#c9c7bd', lineWidth:1}, z:-98, silent:true});
  const tf = {fontSize:22, fontFamily:'"DejaVu Serif","Noto Sans CJK KR",serif', fill:'#3a3a3a', verticalAlign:'middle', align:'left'};
  graphics.push({type:'text', x:p.tx, y:p.ty, style:Object.assign({text:titles1[i]}, tf), z:100});
  graphics.push({type:'text', x:p.tx, y:p.ty+35.5, style:Object.assign({text:titles2[i]}, tf), z:100});
});

const chart = echarts.init(document.getElementById('c'), null, {renderer:'canvas'});
chart.setOption({animation:false, backgroundColor:'#fff', grid:grids, xAxis:xAxes, yAxis:yAxes, series:series, graphic:{elements:graphics}});
</script></body></html>
